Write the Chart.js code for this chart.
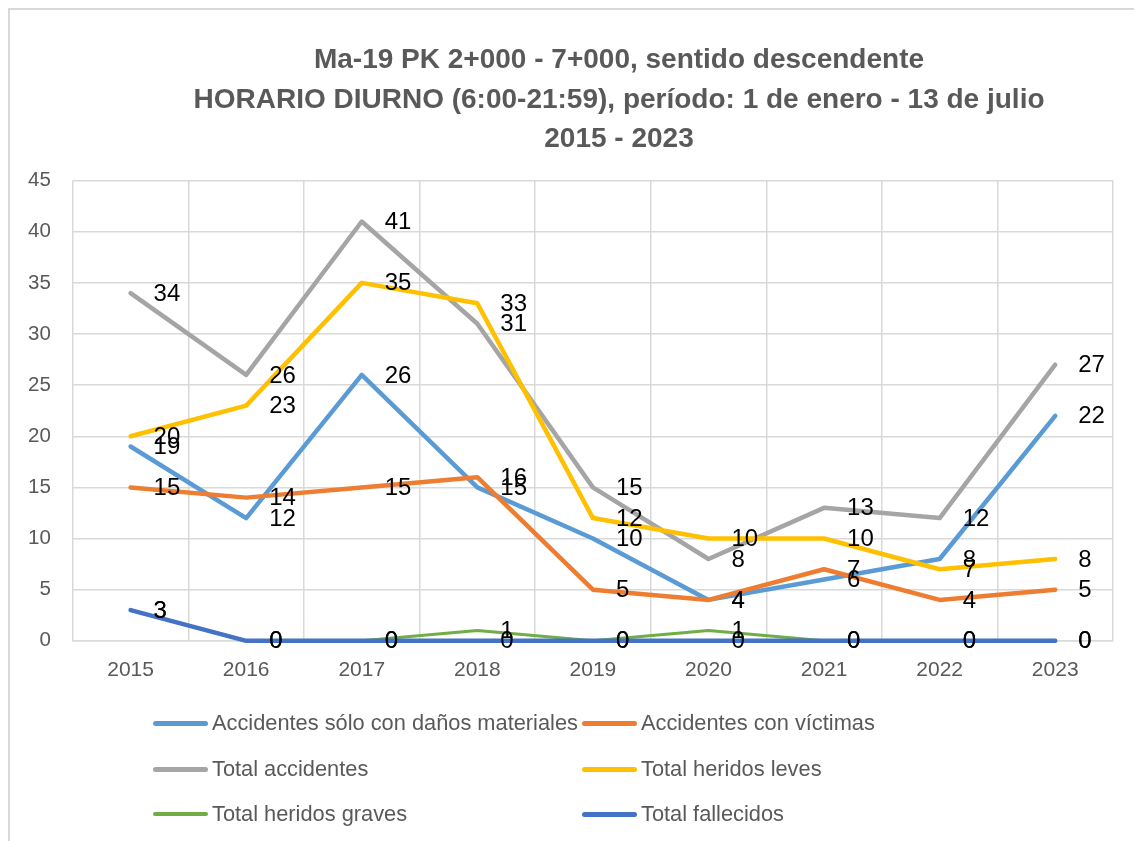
<!DOCTYPE html>
<html>
<head>
<meta charset="utf-8">
<script src="https://cdn.jsdelivr.net/npm/chart.js@4/dist/chart.umd.min.js"></script>
<style>
  body { margin: 0; background: #fff; }
  #wrap { position: relative; width: 1134px; height: 841px; overflow: hidden; }
  #frame { position: absolute; left: 8px; top: 8px; width: 1200px; height: 900px; border: 2px solid #D9D9D9; }
  #box { position: absolute; left: 0; top: 0; width: 1134px; height: 841px; }
  #legend { position: absolute; left: 0; top: 0; font-family: "Liberation Sans", Arial, sans-serif; font-size: 21.8px; color: #595959; }
  .item { position: absolute; display: flex; align-items: center; height: 30px; white-space: nowrap; }
  .item span.ln { display: inline-block; width: 55px; border-radius: 3px; margin-right: 4px; }
</style>
</head>
<body>
<div id="wrap">
  <div id="frame"></div>
  <div id="box"><canvas id="myChart"></canvas></div>
  <div id="legend"></div>
</div>
<script>
var years = ['2015', '2016', '2017', '2018', '2019', '2020', '2021', '2022', '2023'];

var danosMateriales = [19, 12, 26, 15, 10, 4, 6, 8, 22];
var conVictimas     = [15, 14, 15, 16, 5, 4, 7, 4, 5];
var totalAccidentes = [34, 26, 41, 31, 15, 8, 13, 12, 27];
var heridosLeves    = [20, 23, 35, 33, 12, 10, 10, 7, 8];
var heridosGraves   = [3, 0, 0, 1, 0, 1, 0, 0, 0];
var fallecidos      = [3, 0, 0, 0, 0, 0, 0, 0, 0];

var titleLines = [
  'Ma-19 PK 2+000 - 7+000, sentido descendente',
  'HORARIO DIURNO (6:00-21:59), período: 1 de enero - 13 de julio',
  '2015 - 2023'
];

function serie(label, data, color, width, order) {
  return {
    label: label, data: data,
    borderColor: color, backgroundColor: color,
    borderWidth: width, pointRadius: 0, tension: 0,
    borderCapStyle: 'round', borderJoinStyle: 'round',
    clip: false,
    order: order
  };
}

// labels to the right of each point, like excel does
var valueLabels = {
  id: 'valueLabels',
  afterDatasetsDraw: function(chart) {
    var ctx = chart.ctx;
    ctx.save();
    ctx.font = '24px "Liberation Sans", Arial, sans-serif';
    ctx.fillStyle = '#000';
    ctx.textAlign = 'left';
    ctx.textBaseline = 'middle';
    chart.data.datasets.forEach(function(ds, i) {
      var meta = chart.getDatasetMeta(i);
      meta.data.forEach(function(pt, j) {
        ctx.fillText(String(ds.data[j]), pt.x + 23, pt.y + 1);
      });
    });
    ctx.restore();
  }
};

// title in the original sits a bit right of the middle
var titleShift = {
  id: 'titleShift',
  afterLayout: function(chart) {
    if (chart.titleBlock) {
      chart.titleBlock.left = 104;
      chart.titleBlock.right = 1134;
    }
  }
};

var ctx = document.getElementById('myChart').getContext('2d');
var chart = new Chart(ctx, {
  type: 'line',
  data: {
    labels: years,
    datasets: [
      serie('Accidentes sólo con daños materiales', danosMateriales, '#5B9BD5', 4.5, 5),
      serie('Accidentes con víctimas', conVictimas, '#ED7D31', 4.5, 4),
      serie('Total accidentes', totalAccidentes, '#A5A5A5', 4.5, 3),
      serie('Total heridos leves', heridosLeves, '#FFC000', 4.5, 2),
      serie('Total heridos graves', heridosGraves, '#70AD47', 3, 1),
      serie('Total fallecidos', fallecidos, '#4472C4', 4.5, 0)
    ]
  },
  options: {
    responsive: true,
    maintainAspectRatio: false,
    animation: false,
    layout: { padding: { left: 6, right: 21, top: 0, bottom: 141 } },
    plugins: {
      legend: { display: false },
      tooltip: { enabled: false },
      title: {
        display: true,
        text: titleLines,
        color: '#595959',
        font: { family: '"Liberation Sans", Arial, sans-serif', size: 28, weight: 'bold', lineHeight: 1.4 },
        padding: { top: 41, bottom: 22 }
      }
    },
    scales: {
      x: {
        offset: true,
        grid: { offset: true, color: '#D9D9D9', lineWidth: 1.5, drawTicks: false },
        border: { color: '#D9D9D9', width: 1.5 },
        ticks: { color: '#595959', padding: 17, font: { family: '"Liberation Sans", Arial, sans-serif', size: 21 } }
      },
      y: {
        min: 0, max: 45,
        grid: { color: '#D9D9D9', lineWidth: 1.5, drawTicks: false },
        border: { display: false },
        ticks: { stepSize: 5, color: '#595959', padding: 22, font: { family: '"Liberation Sans", Arial, sans-serif', size: 20.5 } }
      }
    }
  },
  plugins: [valueLabels, titleShift]
});

// legend in two columns, built from the datasets
var legendPos = [[153, 723], [582, 723], [153, 769], [582, 769], [153, 814], [582, 814]];
var legend = document.getElementById('legend');
chart.data.datasets.forEach(function(ds, i) {
  var it = document.createElement('div');
  it.className = 'item';
  it.style.left = legendPos[i][0] + 'px';
  it.style.top = (legendPos[i][1] - 15) + 'px';
  var ln = document.createElement('span');
  ln.className = 'ln';
  ln.style.background = ds.borderColor;
  ln.style.height = (ds.borderWidth === 3 ? 3.5 : 5) + 'px';
  it.appendChild(ln);
  it.appendChild(document.createTextNode(ds.label));
  legend.appendChild(it);
});
</script>
</body>
</html>
